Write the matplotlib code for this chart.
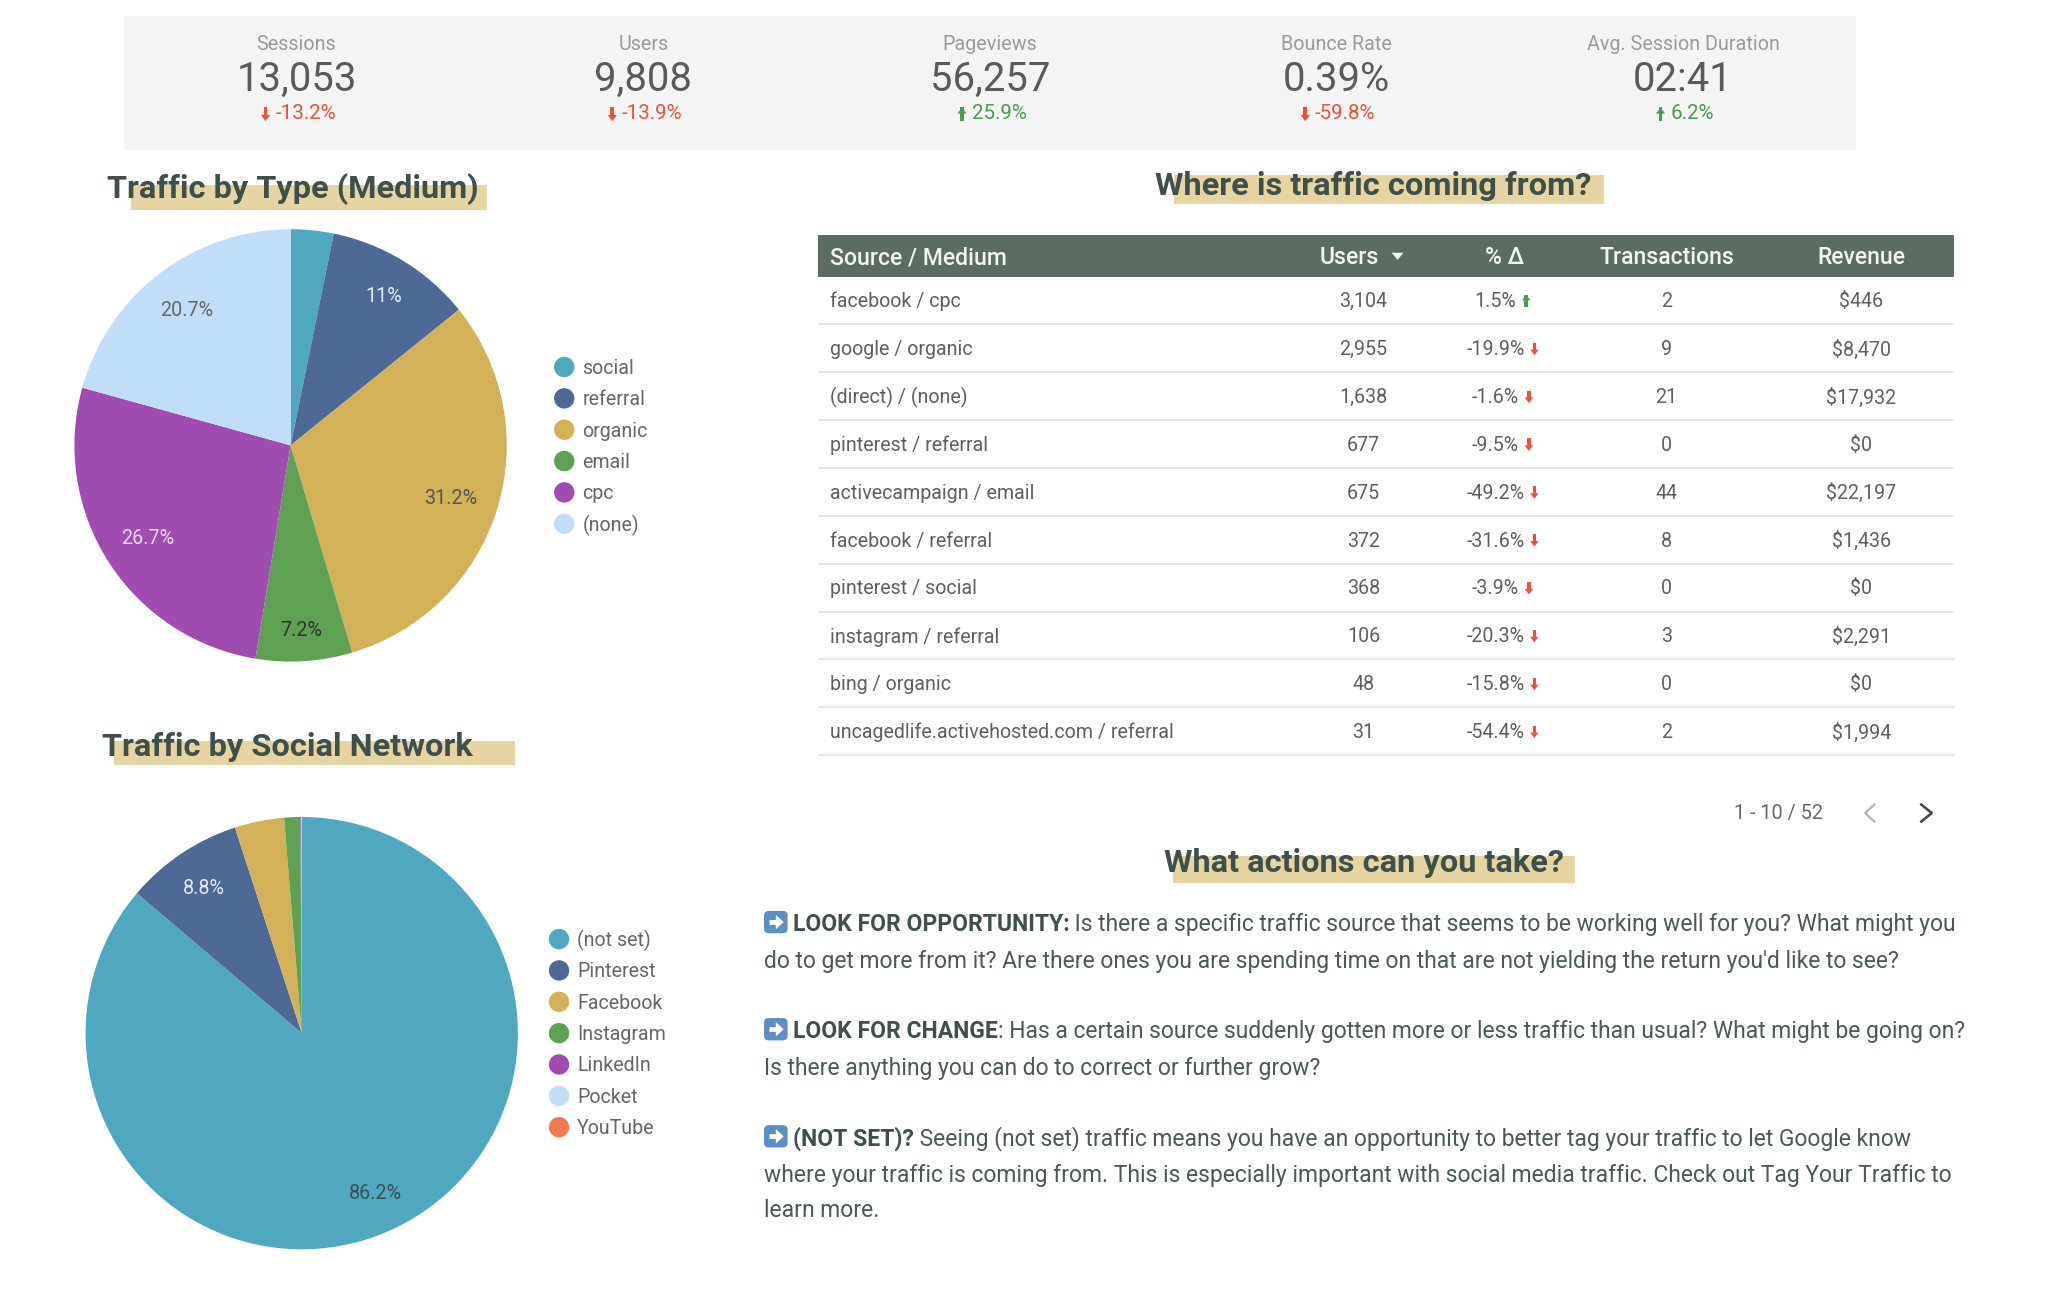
import matplotlib
matplotlib.use('Agg')
import matplotlib.pyplot as plt
from matplotlib.patches import Rectangle, FancyBboxPatch, Polygon, Circle

plt.rcParams['font.family'] = ['Roboto', 'DejaVu Sans']

# data
kpi_names = ['Sessions', 'Users', 'Pageviews', 'Bounce Rate', 'Avg. Session Duration']
kpi_values = ['13,053', '9,808', '56,257', '0.39%', '02:41']
kpi_deltas = ['-13.2%', '-13.9%', '25.9%', '-59.8%', '6.2%']
kpi_up = [False, False, True, False, True]
kpi_good = [False, False, True, False, True]

medium_names = ['social', 'referral', 'organic', 'email', 'cpc', '(none)']
medium_share = [3.2, 11, 31.2, 7.2, 26.7, 20.7]
social_names = ['(not set)', 'Pinterest', 'Facebook', 'Instagram', 'LinkedIn', 'Pocket', 'YouTube']
social_share = [86.2, 8.8, 3.7, 1.2, 0.05, 0.03, 0.02]
pie_colors = ['#4fa8bf', '#4f6997', '#d3b159', '#5ea153', '#a04cb0', '#c2ddf8', '#ef7a52']

table_header = ['Source / Medium', 'Users', '% Δ', 'Transactions', 'Revenue']
sources = ['facebook / cpc', 'google / organic', '(direct) / (none)', 'pinterest / referral',
           'activecampaign / email', 'facebook / referral', 'pinterest / social',
           'instagram / referral', 'bing / organic', 'uncagedlife.activehosted.com / referral']
users = ['3,104', '2,955', '1,638', '677', '675', '372', '368', '106', '48', '31']
changes = ['1.5%', '-19.9%', '-1.6%', '-9.5%', '-49.2%', '-31.6%', '-3.9%', '-20.3%', '-15.8%', '-54.4%']
transactions = ['2', '9', '21', '0', '44', '8', '0', '3', '0', '2']
revenue = ['$446', '$8,470', '$17,932', '$0', '$22,197', '$1,436', '$0', '$2,291', '$0', '$1,994']

RED = '#ea4f43'
GREEN = '#4f9a52'
DARK = '#3f4f49'
BODY = '#4a5953'
GREY = '#5f5f5f'
BAND = '#e6d5a3'

W, H = 2048, 1290
S = 2048 / 1568  # layout measured on the shrunk picture

fig = plt.figure(figsize=(W / 100, H / 100), dpi=100, facecolor='white')


def pie_axes(cx, cy, r):
    return fig.add_axes([(cx - r) * S / W, 1 - (cy + r) * S / H, 2 * r * S / W, 2 * r * S / H])


# pies
ax1 = pie_axes(222.5, 341, 165.5)
ax1.pie(medium_share, colors=pie_colors[:6], startangle=90, counterclock=False, radius=1,
        wedgeprops={'linewidth': 0})
ax1.set_xlim(-1, 1)
ax1.set_ylim(-1, 1)

ax2 = pie_axes(231, 791, 165.5)
ax2.pie(social_share, colors=pie_colors, startangle=90, counterclock=False, radius=1,
        wedgeprops={'linewidth': 0})
ax2.set_xlim(-1, 1)
ax2.set_ylim(-1, 1)

# overlay for everything else, in shrunk picture coordinates
ax = fig.add_axes([0, 0, 1, 1], zorder=5)
ax.set_xlim(0, W / S)
ax.set_ylim(H / S, 0)
ax.axis('off')
ax.patch.set_alpha(0)


def tx(x, y, s, **kw):
    # text sits a pixel low compared with plain va=center
    kw.setdefault('va', 'center')
    return ax.text(x, y + 1, s, **kw)


def arrow(x, y, up, color, h=10.5, w=7):
    # small filled arrow as used in the scorecards
    sgn = -1 if up else 1
    ax.add_patch(Rectangle((x - w * 0.2, y - h / 2), w * 0.4, h * 0.75 if not up else h,
                           color=color, lw=0))
    tip = y + sgn * h / 2
    base = y + sgn * h * 0.05
    ax.add_patch(Polygon([(x - w / 2, base), (x + w / 2, base), (x, tip)], color=color, lw=0))


def text_width(t):
    return t.get_window_extent(fig.canvas.get_renderer()).width / S


def title(txt, x, y, band):
    ax.add_patch(Rectangle((band[0], band[2]), band[1] - band[0], band[3] - band[2], color=BAND, lw=0))
    tx(x, y + 0.5, txt, fontsize=23.4, fontweight='bold', color=DARK, ha='left')


# scorecards
ax.add_patch(Rectangle((95, 12), 1326, 103, color='#f4f4f4', lw=0))
kpi_x = [227, 492.5, 758, 1023, 1288.5]
for i, cx in enumerate(kpi_x):
    tx(cx, 33, kpi_names[i], fontsize=14.2, color='#9a9a9a', ha='center')
    tx(cx, 59.5, kpi_values[i], fontsize=28.8, color='#5a5a5a', ha='center')
    col = GREEN if kpi_good[i] else RED
    t = tx(cx + 7, 86, kpi_deltas[i], fontsize=14.8, color=col, ha='center')
    arrow(cx + 7 - text_width(t) / 2 - 7.5, 87.5, kpi_up[i], col)

# titles with marker band
title('Traffic by Type (Medium)', 82, 143.5, (100, 373, 142, 161))
title('Where is traffic coming from?', 884, 141, (899, 1228, 134, 156))
title('Traffic by Social Network', 78, 570.5, (87, 394, 567, 586))
title('What actions can you take?', 891, 659, (898, 1206, 655, 676))


# legends
def legend(names, x, y0):
    for i, name in enumerate(names):
        y = y0 + 24 * i
        ax.add_patch(Circle((x, y), 7.8, color=pie_colors[i], lw=0))
        tx(x + 14, y, name, fontsize=14.1, color='#666666', ha='left')


legend(medium_names, 432, 281)
legend(social_names, 428, 719)

# pie value labels
pie_labels = [('11%', 294, 226, '#e4e8f0'), ('31.2%', 345, 380.5, '#555555'), ('7.2%', 231, 482, '#333333'),
              ('26.7%', 113, 411, '#eadcf0'), ('20.7%', 143, 237, '#666666'),
              ('8.8%', 156, 679, '#e4e8f0'), ('86.2%', 287.5, 913, '#3f4f55')]
for lab, x, y, col in pie_labels:
    tx(x, y, lab, fontsize=14.2, color=col, ha='center')

# table
ax.add_patch(Rectangle((626, 180), 870, 32, color='#5b6d62', lw=0))
head_kw = dict(fontsize=16.6, fontweight='medium', color='#f2f4f2')
tx(635.5, 196.5, table_header[0], ha='left', **head_kw)
tx(1033, 196.5, table_header[1], ha='center', **head_kw)
ax.add_patch(Polygon([(1065.5, 193.5), (1074.5, 193.5), (1070, 199)], color='#f2f4f2', lw=0))
tx(1152, 196.5, table_header[2], ha='center', **head_kw)
tx(1276, 196.5, table_header[3], ha='center', **head_kw)
tx(1425, 196.5, table_header[4], ha='center', **head_kw)

row_h = 36.65
for i, src in enumerate(sources):
    y = 230 + row_h * i
    tx(635.5, y, src, fontsize=14.1, color=GREY, ha='left')
    tx(1044, y, users[i], fontsize=14.1, color=GREY, ha='center')
    t = tx(1145, y, changes[i], fontsize=14.1, color=GREY, ha='center')
    up = not changes[i].startswith('-')
    arrow(1145 + text_width(t) / 2 + 7.5, y + 0.5, up, GREEN if up else RED, h=9.5, w=6.5)
    tx(1276, y, transactions[i], fontsize=14.1, color=GREY, ha='center')
    tx(1425, y, revenue[i], fontsize=14.1, color=GREY, ha='center')
    ax.plot([626, 1496], [y + 18.3, y + 18.3], color='#e4e6e4', lw=1.3, solid_capstyle='butt')

# pagination
tx(1362, 622, '1 - 10 / 52', fontsize=14.3, color='#666666', ha='center')
ax.plot([1435, 1428, 1435], [616, 622.5, 629], color='#b5b5b5', lw=1.7)
ax.plot([1471, 1479, 1471], [616, 622.5, 629], color='#4a4a4a', lw=1.9)


# actions text
def icon(x, y):
    ax.add_patch(FancyBboxPatch((x + 0.5, y - 8), 17, 16, boxstyle='round,pad=0,rounding_size=3',
                                facecolor='#5d8fc4', edgecolor='#5d8fc4', lw=1))
    ax.plot([x + 4, x + 10], [y, y], color='white', lw=3.4, solid_capstyle='butt')
    ax.add_patch(Polygon([(x + 9, y - 5.5), (x + 15, y), (x + 9, y + 5.5)], color='white', lw=0))


def bold_line(y, bold, rest):
    icon(585, y - 1)
    t = tx(607, y, bold, fontsize=16.5, fontweight='bold', color=DARK, ha='left')
    tx(607 + text_width(t), y, rest, fontsize=16.5, color=BODY, ha='left')


def plain_line(y, txt):
    tx(585, y, txt, fontsize=16.5, color=BODY, ha='left')


bold_line(707, 'LOOK FOR OPPORTUNITY:',
          ' Is there a specific traffic source that seems to be working well for you? What might you')
plain_line(735, "do to get more from it? Are there ones you are spending time on that are not yielding the return you'd like to see?")
bold_line(789, 'LOOK FOR CHANGE',
          ': Has a certain source suddenly gotten more or less traffic than usual? What might be going on?')
plain_line(817, 'Is there anything you can do to correct or further grow?')
bold_line(871, '(NOT SET)?',
          ' Seeing (not set) traffic means you have an opportunity to better tag your traffic to let Google know')
plain_line(899, 'where your traffic is coming from. This is especially important with social media traffic. Check out Tag Your Traffic to')
plain_line(926, 'learn more.')

fig.savefig('out.png', dpi=100, facecolor='white')
